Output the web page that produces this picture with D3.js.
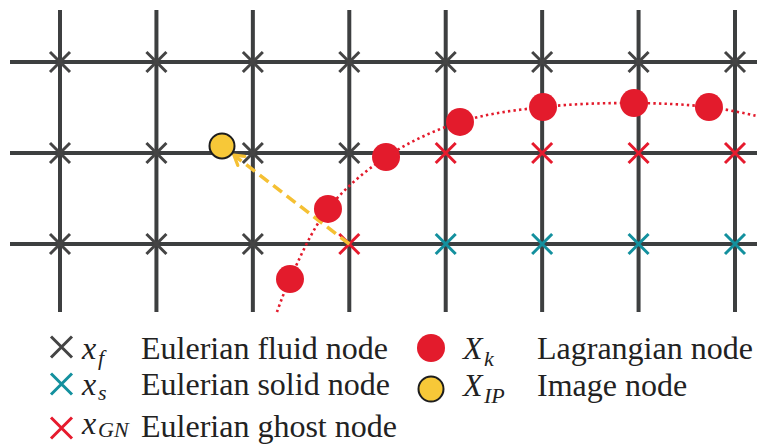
<!DOCTYPE html>
<html><head><meta charset="utf-8">
<script src="https://cdn.jsdelivr.net/npm/d3@7"></script>
<style>html,body{margin:0;padding:0;background:#fff;}svg{display:block;}</style>
</head><body>
<svg id="c" width="757" height="444"></svg>
<script>
// ---- data (grid units) ----
const cols = [0,1,2,3,4,5,6,7];
const rows = [0,1,2];
const nodeTypes = [
  ["f","f","f","f","f","f","f","f"],
  ["f","f","f","f","GN","GN","GN","GN"],
  ["f","f","f","GN","s","s","s","s"]
];
const lagX = [2.385, 2.779, 3.381, 4.148, 5.009, 5.953, 6.730];
const lagY = [2.385, 1.615, 1.044, 0.659, 0.495, 0.451, 0.495];
const curveX = [2.250, 2.385, 2.779, 3.381, 4.148, 5.009, 5.953, 6.730, 7.228];
const curveY = [2.747, 2.385, 1.615, 1.044, 0.659, 0.495, 0.451, 0.495, 0.593];
const imageX = [1.680];
const imageY = [0.923];
const arrowFrom = [3, 2];
const legendSym = ["x", "x", "x", "X", "X"];
const legendSub = ["f", "s", "GN", "k", "IP"];
const legendLabels = ["Eulerian fluid node", "Eulerian solid node", "Eulerian ghost node", "Lagrangian node", "Image node"];
const legendTypes = ["f", "s", "GN", "lag", "ip"];

const colors = {f:"#444444", s:"#13909e", GN:"#e61a2d", lag:"#e31b2c", ip:"#f7c838", grid:"#3d3f40", arrow:"#f5c033"};

const svg = d3.select("#c");
const x = d3.scaleLinear().domain([0,7]).range([60,735]);
const y = d3.scaleLinear().domain([0,2]).range([62,244]);

// grid lines
svg.selectAll("line.h").data(rows).join("line").attr("class","h")
  .attr("x1",10).attr("x2",757).attr("y1",d=>y(d)).attr("y2",d=>y(d))
  .attr("stroke",colors.grid).attr("stroke-width",4);
svg.selectAll("line.v").data(cols).join("line").attr("class","v")
  .attr("x1",d=>x(d)).attr("x2",d=>x(d)).attr("y1",10).attr("y2",312)
  .attr("stroke",colors.grid).attr("stroke-width",4);

function cross(sel, s){ return sel.attr("d",`M${-s},${-s}L${s},${s}M${-s},${s}L${s},${-s}`); }

// nodes
const nodes = [];
rows.forEach(r=>cols.forEach(c=>nodes.push({r,c,t:nodeTypes[r][c]})));
svg.selectAll("path.node").data(nodes).join("path").attr("class","node")
  .call(cross,10)
  .attr("transform",d=>`translate(${x(d.c)},${y(d.r)})`)
  .attr("fill","none").attr("stroke",d=>colors[d.t]).attr("stroke-width",3);

// dotted curve
const line = d3.line().x(d=>x(d[0])).y(d=>y(d[1])).curve(d3.curveCatmullRom.alpha(0.5));
svg.append("path").datum(curveX.map((v,i)=>[v,curveY[i]]))
  .attr("d",line).attr("fill","none").attr("stroke",colors.lag)
  .attr("stroke-width",2.6).attr("stroke-dasharray","2.4,3.2");

// arrow from ghost node to image point
const x0 = x(arrowFrom[0]), y0 = y(arrowFrom[1]);
const x1 = x(imageX[0]), y1 = y(imageY[0]);
const ang = Math.atan2(y1-y0, x1-x0);
const ex = x1 - Math.cos(ang)*15, ey = y1 - Math.sin(ang)*15;
svg.append("line").attr("x1",x0).attr("y1",y0).attr("x2",ex).attr("y2",ey)
  .attr("stroke",colors.arrow).attr("stroke-width",3.5).attr("stroke-dasharray","11,6");
const ah = 11, spread = 0.55;
svg.append("path")
  .attr("d",`M${ex - Math.cos(ang-spread)*ah},${ey - Math.sin(ang-spread)*ah}L${ex},${ey}L${ex - Math.cos(ang+spread)*ah},${ey - Math.sin(ang+spread)*ah}`)
  .attr("fill","none").attr("stroke",colors.arrow).attr("stroke-width",3.2)
  .attr("stroke-linecap","round").attr("stroke-linejoin","round");

// lagrangian dots
svg.selectAll("circle.lag").data(lagX.map((v,i)=>[v,lagY[i]])).join("circle").attr("class","lag")
  .attr("cx",d=>x(d[0])).attr("cy",d=>y(d[1])).attr("r",14).attr("fill",colors.lag);

// image point
svg.append("circle").attr("cx",x1).attr("cy",y1).attr("r",12.5)
  .attr("fill",colors.ip).attr("stroke","#1d1d1d").attr("stroke-width",2);

// legend layout
const markX  = [61.5, 61.5, 61.5, 431, 431];
const markY  = [347, 384, 428, 348, 389];
const symX   = [82, 82, 82, 463, 463];
const subX   = [98, 98, 98, 484, 484];
const baseY  = [359, 395, 434, 359, 396];
const subDY  = [6, 5, 3, 7, 7];
const labX   = [141, 141, 141, 537, 537];
const labY   = [359, 395, 437, 359, 396];

legendTypes.forEach((t,i)=>{
  if(t==="lag"||t==="ip"){
    const c = svg.append("circle").attr("cx",markX[i]).attr("cy",markY[i]).attr("fill",colors[t]);
    if(t==="ip") c.attr("r",12.5).attr("stroke","#1d1d1d").attr("stroke-width",2); else c.attr("r",14);
  } else {
    svg.append("path").call(cross,10.5).attr("transform",`translate(${markX[i]},${markY[i]})`)
      .attr("fill","none").attr("stroke",colors[t]).attr("stroke-width",3);
  }
});
function addText(px, py, size, italic, s){
  const el = svg.append("text").attr("x",px).attr("y",py).attr("fill","#222")
    .attr("font-size",size).style("font-family",'"Liberation Serif"').text(s);
  if(italic) el.style("font-style","italic");
}
legendTypes.forEach((t,i)=>{
  addText(symX[i], baseY[i], 32, true, legendSym[i]);
  addText(subX[i], baseY[i]+subDY[i], 22, true, legendSub[i]);
  addText(labX[i], labY[i], 32, false, legendLabels[i]);
});
</script>
</body></html>
